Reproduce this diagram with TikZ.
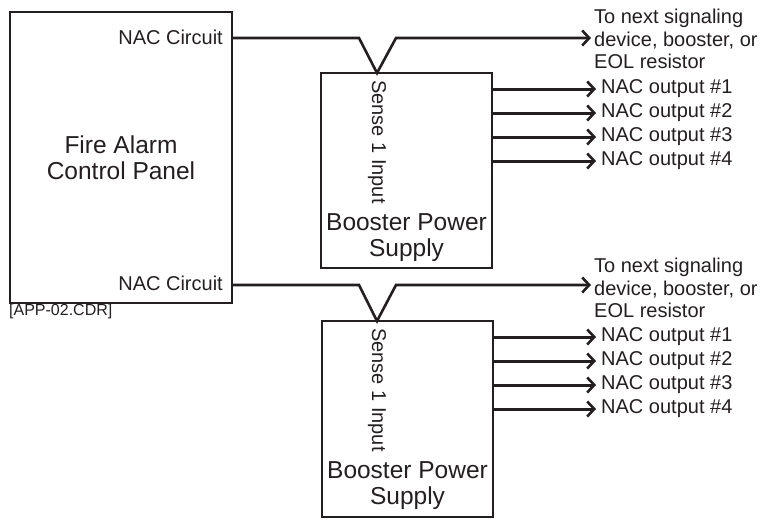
\documentclass[tikz,border=0pt]{standalone}
\usepackage{fontspec}
\setmainfont{Liberation Sans}
\usepackage{tikz}
\usetikzlibrary{positioning, arrows.meta, calc}
\definecolor{inkblack}{HTML}{231F20}

\tikzset{
  blockbox/.style={draw=inkblack, line width=2.3pt, rectangle, inner sep=0pt},
  wire/.style={draw=inkblack, line width=2.6pt, line join=miter},
  feedarrow/.style={wire, -{Straight Barb[length=7pt, width=15pt, line width=2.6pt]}},
  outarrow/.style={draw=inkblack, line width=3pt, -{Straight Barb[length=7pt, width=15pt, line width=2.6pt]}},
  smalltext/.style={text=inkblack, font=\fontsize{20}{22.5}\selectfont, inner sep=3pt},
  bigtext/.style={text=inkblack, font=\fontsize{24.5}{26}\selectfont, align=center, inner sep=0pt}
}

\begin{document}
\begin{tikzpicture}[x=1pt, y=-1pt]
    \useasboundingbox (0,0) rectangle (765,519);

    % control panel
    \node[blockbox, minimum width=222pt, minimum height=291pt] (panel) at (121,157.5) {};
    \node[bigtext] (panelname) at (121,158) {Fire Alarm\\Control Panel};
    \node[smalltext, anchor=east] (nac1) at (226,37) {NAC Circuit};
    \node[smalltext, anchor=east] (nac2) at (226,283) {NAC Circuit};
    \node[text=inkblack, font=\fontsize{16}{18}\selectfont, anchor=north west, inner sep=0pt] (drawref) at (9,304) {[APP-02.CDR]};

    % first booster
    \node[blockbox, minimum width=171pt, minimum height=195pt] (boost1) at (406.5,170.5) {};
    \coordinate (sense1) at (377,73);
    \node[smalltext, rotate=-90, anchor=west, inner sep=0pt] (sensetxt1) at (377,80) {Sense 1 Input};
    \node[bigtext] (boostname1) at (406.5,238) {Booster Power\\Supply};
    \node[smalltext, anchor=west, align=left] (next1) at (591,39) {To next signaling\\device, booster, or\\EOL resistor};
    \draw[feedarrow] (panel.east |- 0,38) -- (359,38) -- (sense1) -- (396,38) -- (next1.west |- 0,38);
    \foreach \i/\y in {1/89, 2/113, 3/137, 4/161} {
      \node[smalltext, anchor=west, inner sep=5pt] (outa\i) at (596,\y) {NAC output \#\i};
      \draw[outarrow] (boost1.east |- outa\i) -- (outa\i.west);
    }

    % second booster
    \node[blockbox, minimum width=171pt, minimum height=196pt] (boost2) at (407.5,419) {};
    \coordinate (sense2) at (377,321);
    \node[smalltext, rotate=-90, anchor=west, inner sep=0pt] (sensetxt2) at (377,328) {Sense 1 Input};
    \node[bigtext] (boostname2) at (407.5,486) {Booster Power\\Supply};
    \node[smalltext, anchor=west, align=left] (next2) at (591,288) {To next signaling\\device, booster, or\\EOL resistor};
    \draw[feedarrow] (panel.east |- 0,285) -- (359,285) -- (sense2) -- (396,285) -- (next2.west |- 0,285);
    \foreach \i/\y in {1/337, 2/361, 3/385, 4/409} {
      \node[smalltext, anchor=west, inner sep=5pt] (outb\i) at (596,\y) {NAC output \#\i};
      \draw[outarrow] (boost2.east |- outb\i) -- (outb\i.west);
    }
\end{tikzpicture}
\end{document}
